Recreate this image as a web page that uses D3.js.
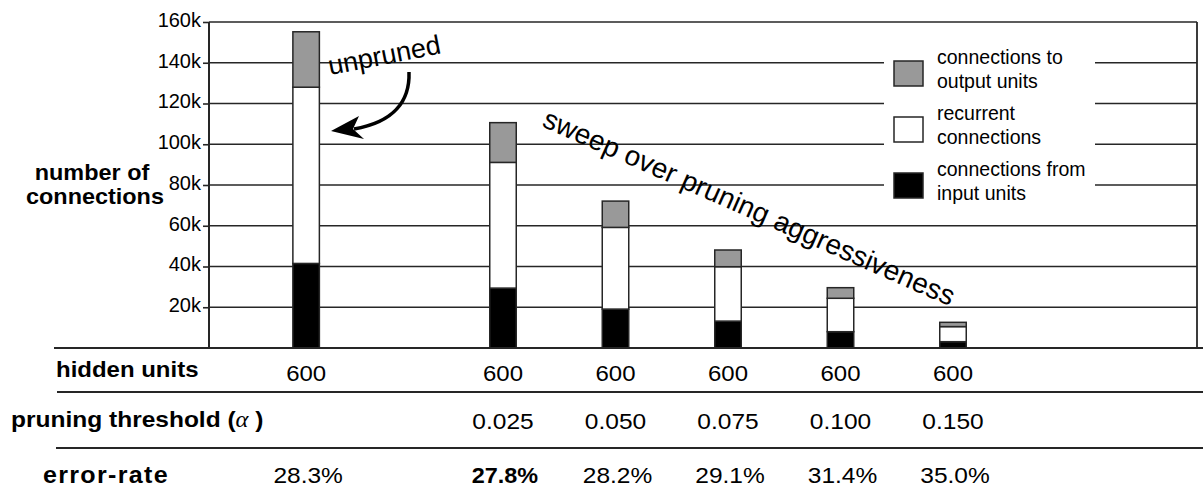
<!DOCTYPE html>
<html>
<head>
<meta charset="utf-8">
<script src="https://cdn.jsdelivr.net/npm/d3@7"></script>
<style>
  html, body { margin: 0; padding: 0; background: #fff; }
  svg { display: block; }
  text { font-family: "Liberation Sans", Arial, Helvetica, sans-serif; fill: #000; }
</style>
</head>
<body>
<svg id="chart" width="1203" height="488"></svg>
<script>
// Connection counts (thousands) per network, split by connection type
const configs       = ["unpruned", "0.025", "0.050", "0.075", "0.100", "0.150"];
const inputConn     = [41.5, 29.4, 19.1, 13.2, 8.0, 3.1];
const recurrentConn = [86.5, 61.7, 40.1, 26.7, 16.4, 7.4];
const outputConn    = [27.2, 19.5, 12.9, 8.2, 5.2, 2.1];

// Table rows under the chart
const hiddenUnits    = [600, 600, 600, 600, 600, 600];
const thresholdTexts = ["", "0.025", "0.050", "0.075", "0.100", "0.150"];
const errorRates     = [28.3, 27.8, 28.2, 29.1, 31.4, 35.0];

// Axis ticks (thousands)
const yTicks = [20, 40, 60, 80, 100, 120, 140, 160];

const seriesKeys   = ["input", "recurrent", "output"];
const seriesColors = { input: "#000000", recurrent: "#ffffff", output: "#999999" };
const legendItems  = [
  { key: "output",    lines: ["connections to", "output units"] },
  { key: "recurrent", lines: ["recurrent", "connections"] },
  { key: "input",     lines: ["connections from", "input units"] }
];

const svg = d3.select("#chart");
const ink = "#262626";

const plot = { left: 209, right: 1197, top: 22, bottom: 348 };

const y = d3.scaleLinear().domain([0, 160]).range([plot.bottom, plot.top]);

// the unpruned bar stands apart from the threshold sweep
const slot = i => (i === 0 ? 0 : i + 0.75);
const x = d3.scaleLinear().domain([1.75, 5.75]).range([503, 953]);
const barW = 26.5;

// text with the slightly wide letterforms used throughout the figure
function wideText(parent, px, py, str, opts = {}) {
  const g = parent.append("g")
    .attr("transform", `translate(${px},${py}) rotate(${opts.rotate || 0}) scale(${opts.sx || 1.09},1)`);
  const t = g.append("text")
    .attr("text-anchor", opts.anchor || "start")
    .style("font-size", (opts.size || 22) + "px")
    .style("font-weight", opts.bold ? "bold" : "normal");
  if (opts.spacing) t.style("letter-spacing", opts.spacing + "px");
  t.text(str);
  return t;
}

// gridlines
const grid = svg.append("g");
grid.selectAll("line").data(yTicks).join("line")
  .attr("x1", plot.left).attr("x2", plot.right)
  .attr("y1", d => y(d)).attr("y2", d => y(d))
  .attr("stroke", ink).attr("stroke-width", 1.6);

// right frame
svg.append("line")
  .attr("x1", plot.right).attr("x2", plot.right)
  .attr("y1", plot.top).attr("y2", plot.bottom)
  .attr("stroke", ink).attr("stroke-width", 1.8);

// y axis
const yAxis = d3.axisLeft(y).tickValues(yTicks).tickSize(6).tickPadding(2)
  .tickFormat(d => d + "k");
const ya = svg.append("g").attr("transform", `translate(${plot.left},0)`).call(yAxis);
ya.select(".domain").attr("stroke", ink).attr("stroke-width", 2)
  .attr("d", `M0,${plot.top}V${plot.bottom}`);
ya.selectAll(".tick line").attr("stroke", ink).attr("stroke-width", 1.6);
ya.selectAll(".tick text")
  .style("font-size", "20px")
  .style("font-family", "'Liberation Sans', Arial, sans-serif")
  .attr("fill", "#000")
  .attr("dy", "0.22em");

// legend panel sits over the gridlines
const legend = svg.append("g");
legend.append("rect")
  .attr("x", 884).attr("y", 44).attr("width", 211).attr("height", 162)
  .attr("fill", "#fff");
legendItems.forEach((item, i) => {
  const top = 61 + i * 56;
  legend.append("rect")
    .attr("x", 894).attr("y", top).attr("width", 29).attr("height", 25)
    .attr("fill", seriesColors[item.key]).attr("stroke", ink).attr("stroke-width", 1.5);
  item.lines.forEach((ln, j) => {
    legend.append("text")
      .attr("x", 937).attr("y", top + 3 + j * 23.5)
      .style("font-size", "19.5px")
      .text(ln);
  });
});

// stacked bars
const rows = configs.map((c, i) => ({
  config: c, i,
  input: inputConn[i], recurrent: recurrentConn[i], output: outputConn[i]
}));
const stacked = d3.stack().keys(seriesKeys)(rows);

const bars = svg.append("g");
stacked.forEach(layer => {
  bars.append("g").selectAll("rect").data(layer).join("rect")
    .attr("x", d => x(slot(d.data.i)) - barW / 2)
    .attr("width", barW)
    .attr("y", d => y(d[1]))
    .attr("height", d => y(d[0]) - y(d[1]))
    .attr("fill", seriesColors[layer.key])
    .attr("stroke", ink).attr("stroke-width", 1.5);
});

// baseline and table rules
const rule = (yy, x0) => svg.append("line")
  .attr("x1", x0).attr("x2", 1203).attr("y1", yy).attr("y2", yy)
  .attr("stroke", ink).attr("stroke-width", 2);
rule(plot.bottom, 54);
rule(392, 57);
rule(448, 56);

// annotations
wideText(svg, 330, 75, "unpruned", { size: 27, rotate: -11, sx: 1.0 });
svg.append("path")
  .attr("d", "M409,72 C410,100 395,122 354,129")
  .attr("fill", "none").attr("stroke", "#000").attr("stroke-width", 3.5);
svg.append("path")
  .attr("d", "M331,131 L359,116 L353,129 L364,139 Z")
  .attr("fill", "#000");
wideText(svg, 541, 126, "sweep over pruning aggressiveness", { size: 28, rotate: 23.8, sx: 1.0 });

// y-axis title
wideText(svg, 92, 180, "number of", { bold: true, anchor: "middle", size: 21.5 });
wideText(svg, 95, 203.5, "connections", { bold: true, anchor: "middle", size: 21.5 });

// table
wideText(svg, 56, 377, "hidden units", { bold: true, size: 22 });
const thr = wideText(svg, 11, 426.5, "pruning threshold (", { bold: true, size: 22.5 });
thr.append("tspan").style("font-family", "'Liberation Serif', serif")
  .style("font-style", "italic").style("font-weight", "normal").text("\u03B1");
thr.append("tspan").text(" )");
wideText(svg, 43, 483, "error-rate", { bold: true, size: 23, spacing: 1.2 });

const best = d3.minIndex(errorRates);
configs.forEach((c, i) => {
  const cx = x(slot(i));
  wideText(svg, cx, 381, String(hiddenUnits[i]), { anchor: "middle", size: 22 });
  if (thresholdTexts[i]) wideText(svg, cx, 428.5, thresholdTexts[i], { anchor: "middle", size: 22.5 });
  wideText(svg, cx + 2, 483, errorRates[i].toFixed(1) + "%",
    { anchor: "middle", size: 22.5, bold: i === best, sx: i === best ? 1.04 : 1.09 });
});
</script>
</body>
</html>
